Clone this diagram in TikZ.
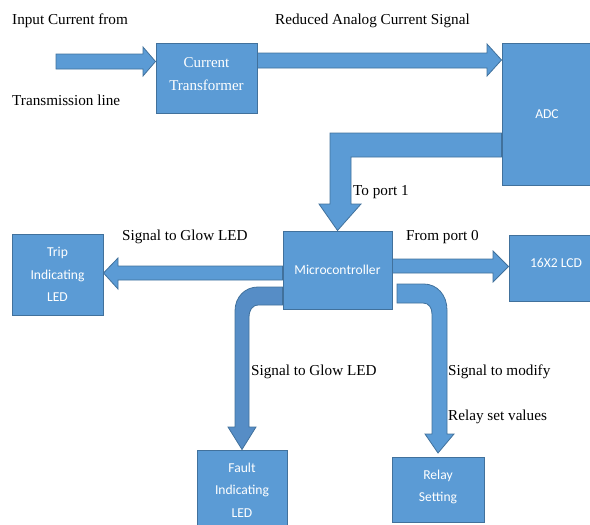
\documentclass[tikz,border=0pt]{standalone}
\usepackage{fontspec}
\setmainfont{Liberation Serif}
\newfontfamily\boxsans{Carlito}
\definecolor{bfill}{HTML}{5B9BD5}
\definecolor{bline}{HTML}{41719C}
\definecolor{bdark}{RGB}{86,141,198}
\tikzset{
  blk/.style={draw=bline, fill=bfill, line width=1pt, inner sep=0pt, align=center, text=white},
  sansbox/.style={blk, font=\boxsans\fontsize{13.6}{22.5}\selectfont},
  boxtext/.style={inner sep=0pt, align=center, text=white},
  sanstext/.style={boxtext, font=\boxsans\fontsize{13.6}{22.5}\selectfont},
  seriftext/.style={boxtext, font=\fontsize{15}{23}\selectfont},
  arr/.style={draw=bline, fill=bfill, line width=0.8pt, line join=miter},
  arrdark/.style={arr, fill=bdark},
  lbl/.style={anchor=base west, inner sep=0pt, font=\fontsize{15.2}{18}\selectfont}
}
\begin{document}
\begin{tikzpicture}[x=1pt,y=-1pt]
\useasboundingbox (0,0) rectangle (590,525);
% boxes
\node[blk, minimum width=101pt, minimum height=70pt] (ct) at (206.5,78) {};
\node[seriftext] (ctt) at (206.5,74) {Current\\Transformer};
\node[sansbox, minimum width=90pt, minimum height=142pt] (adc) at (547,114) {ADC};
\node[sansbox, minimum width=91pt, minimum height=81pt] (trip) at (57.5,274.5) {Trip\\Indicating\\LED};
\node[sansbox, minimum width=109pt, minimum height=78pt] (mc) at (337.5,270) {Microcontroller};
\node[blk, minimum width=94pt, minimum height=66pt] (lcd) at (556,268) {};
\node[sanstext] (lcdt) at (556,263) {16X2 LCD};
\node[sansbox, minimum width=90pt, minimum height=80pt] (fault) at (242,490) {Fault\\Indicating\\LED};
\node[blk, minimum width=92pt, minimum height=65pt] (relay) at (438,489.5) {};
\node[sanstext] (relayt) at (438,487) {Relay\\Setting};
% arrows
\draw[arr] (56,54) -- (143,54) -- (143,47) -- (ct.west |- 0,61.5) -- (143,76) -- (143,69) -- (56,69) -- cycle;
\draw[arr] (ct.east |- 0,53) -- (487,53) -- (487,44) -- (adc.west |- 0,60) -- (487,76) -- (487,68) -- (ct.east |- 0,68) -- cycle;
\draw[arr] (adc.west |- 0,133) -- (330,133) -- (330,204) -- (319,204) -- (mc.north) -- (361,204) -- (351,204) -- (351,157) -- (adc.west |- 0,157) -- cycle;
\draw[arr] (mc.west |- 0,266) -- (118,266) -- (118,258) -- (trip.east |- 0,273) -- (118,289) -- (118,280) -- (mc.west |- 0,280) -- cycle;
\draw[arr] (mc.east |- 0,259) -- (493,259) -- (493,251) -- (lcd.west |- 0,266.5) -- (493,282) -- (493,273) -- (mc.east |- 0,273) -- cycle;
\draw[arrdark] (mc.west |- 0,287) -- (258,287) .. controls (245,287) and (235,297) .. (235,311) -- (235,427) -- (228,427) -- (fault.north) -- (256,427) -- (249,427) -- (249,318) .. controls (249,310) and (252,305) .. (259,305) -- (mc.west |- 0,305) -- cycle;
\draw[arr] (397,284) -- (424,284) .. controls (437,284) and (447,295) .. (447,310) -- (447,434) -- (454,434) -- (relay.north |- 0,453) -- (425,434) -- (432,434) -- (432,314) .. controls (432,308) and (429,303) .. (423,303) -- (397,303) -- cycle;
% labels
\node[lbl] (l1) at (12,24) {Input Current from};
\node[lbl] (l2) at (12,105) {Transmission line};
\node[lbl] (l3) at (275,24) {Reduced Analog Current Signal};
\node[lbl] (l4) at (353,195) {To port 1};
\node[lbl] (l5) at (122,240) {Signal to Glow LED};
\node[lbl] (l6) at (406,240) {From port 0};
\node[lbl] (l7) at (251,375) {Signal to Glow LED};
\node[lbl] (l8) at (448,375) {Signal to modify};
\node[lbl] (l9) at (448,420) {Relay set values};
\end{tikzpicture}
\end{document}
